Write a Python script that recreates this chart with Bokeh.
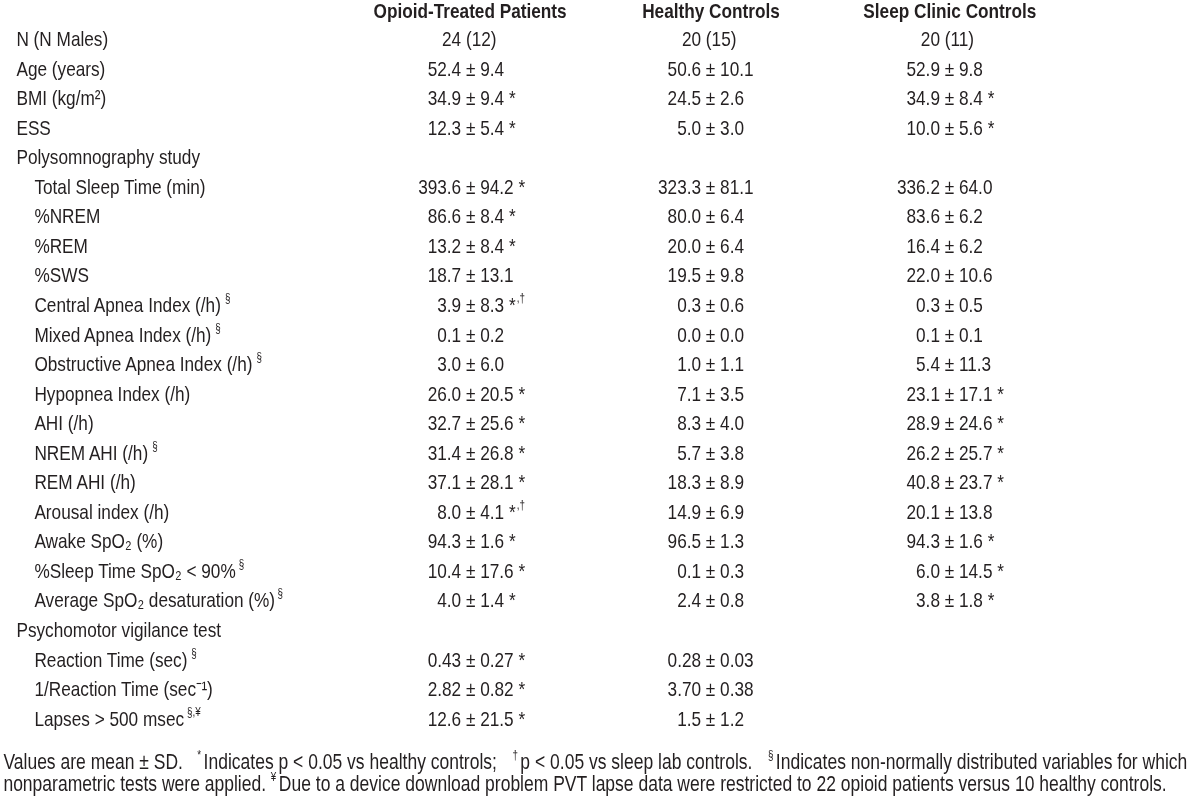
from bokeh.plotting import figure
from bokeh.models import ColumnDataSource, Range1d
from bokeh.core.properties import value
from bokeh.embed import file_html
from bokeh.resources import INLINE

# ---------------- data ----------------
headers = ["Opioid-Treated Patients", "Healthy Controls", "Sleep Clinic Controls"]

labels = ["N (N Males)", "Age (years)", "BMI (kg/m\u00b2)", "ESS", "Polysomnography study",
          "Total Sleep Time (min)", "%NREM", "%REM", "%SWS", "Central Apnea Index (/h)",
          "Mixed Apnea Index (/h)", "Obstructive Apnea Index (/h)", "Hypopnea Index (/h)",
          "AHI (/h)", "NREM AHI (/h)", "REM AHI (/h)", "Arousal index (/h)",
          "Awake SpO\u2082 (%)", "%Sleep Time SpO\u2082 < 90%", "Average SpO\u2082 desaturation (%)",
          "Psychomotor vigilance test", "Reaction Time (sec)", "1/Reaction Time (sec\u207b\u00b9)",
          "Lapses > 500 msec"]
indent = [0, 0, 0, 0, 0, 1, 1, 1, 1, 1, 1, 1, 1, 1, 1, 1, 1, 1, 1, 1, 0, 1, 1, 1]
label_notes = ["", "", "", "", "", "", "", "", "", "\u00a7", "\u00a7", "\u00a7", "", "", "\u00a7", "",
               "", "", "\u00a7", "\u00a7", "", "\u00a7", "", "\u00a7,\u00a5"]

opioid = ["24 (12)", "52.4 \u00b1 9.4", "34.9 \u00b1 9.4", "12.3 \u00b1 5.4", "", "393.6 \u00b1 94.2",
          "86.6 \u00b1 8.4", "13.2 \u00b1 8.4", "18.7 \u00b1 13.1", "3.9 \u00b1 8.3", "0.1 \u00b1 0.2",
          "3.0 \u00b1 6.0", "26.0 \u00b1 20.5", "32.7 \u00b1 25.6", "31.4 \u00b1 26.8", "37.1 \u00b1 28.1",
          "8.0 \u00b1 4.1", "94.3 \u00b1 1.6", "10.4 \u00b1 17.6", "4.0 \u00b1 1.4", "",
          "0.43 \u00b1 0.27", "2.82 \u00b1 0.82", "12.6 \u00b1 21.5"]
opioid_sig = ["", "", "*", "*", "", "*", "*", "*", "", "*,\u2020", "", "", "*", "*", "*", "*",
              "*,\u2020", "*", "*", "*", "", "*", "*", "*"]

healthy = ["20 (15)", "50.6 \u00b1 10.1", "24.5 \u00b1 2.6", "5.0 \u00b1 3.0", "", "323.3 \u00b1 81.1",
           "80.0 \u00b1 6.4", "20.0 \u00b1 6.4", "19.5 \u00b1 9.8", "0.3 \u00b1 0.6", "0.0 \u00b1 0.0",
           "1.0 \u00b1 1.1", "7.1 \u00b1 3.5", "8.3 \u00b1 4.0", "5.7 \u00b1 3.8", "18.3 \u00b1 8.9",
           "14.9 \u00b1 6.9", "96.5 \u00b1 1.3", "0.1 \u00b1 0.3", "2.4 \u00b1 0.8", "",
           "0.28 \u00b1 0.03", "3.70 \u00b1 0.38", "1.5 \u00b1 1.2"]
healthy_sig = [""] * 24

sleep = ["20 (11)", "52.9 \u00b1 9.8", "34.9 \u00b1 8.4", "10.0 \u00b1 5.6", "", "336.2 \u00b1 64.0",
         "83.6 \u00b1 6.2", "16.4 \u00b1 6.2", "22.0 \u00b1 10.6", "0.3 \u00b1 0.5", "0.1 \u00b1 0.1",
         "5.4 \u00b1 11.3", "23.1 \u00b1 17.1", "28.9 \u00b1 24.6", "26.2 \u00b1 25.7", "40.8 \u00b1 23.7",
         "20.1 \u00b1 13.8", "94.3 \u00b1 1.6", "6.0 \u00b1 14.5", "3.8 \u00b1 1.8", "", "", "", ""]
sleep_sig = ["", "", "*", "*", "", "", "", "", "", "", "", "", "*", "*", "*", "*", "",
             "*", "*", "*", "", "", "", ""]

foot1 = [("Values are mean \u00b1 SD.", ""), ("Indicates p < 0.05 vs healthy controls;", "*"),
         ("p < 0.05 vs sleep lab controls.", "\u2020"),
         ("Indicates non-normally distributed variables for which", "\u00a7")]
foot2 = [("nonparametric tests were applied.", ""),
         ("Due to a device download problem PVT lapse data were restricted to 22 opioid patients versus 10 healthy controls.", "\u00a5")]

# ---------------- styling / layout ----------------
FONT = "Liberation Sans"
COLOR = "#231f20"
SIZE = 21
SUP = 12
W = 1200                  # visible page width (data units == screen px)
SX, SY = 0.82, 1.0        # horizontal condensation (Arial -> Arial Narrow look)
WL = int(round(W / (SX * SX)))
HL = 815                  # a little taller than the window so nothing is clipped

AW = {' ': 278, '%': 889, '(': 333, ')': 333, '*': 389, ',': 278, '-': 333, '.': 278, '/': 278,
      ';': 278, '<': 584, '>': 584, '\u00b1': 584, '\u00b2': 333, '\u00b9': 333, '\u2082': 333,
      '\u207b': 333, '\u00a7': 556, '\u2020': 556, '\u00a5': 556, ':': 278}
for c in "0123456789":
    AW[c] = 556
for c, w in zip("ABCDEFGHIJKLMNOPQRSTUVWXYZ",
                [667, 667, 722, 722, 667, 611, 778, 722, 278, 500, 667, 556, 833, 722, 778, 667,
                 778, 722, 667, 611, 722, 667, 944, 667, 667, 611]):
    AW[c] = w
for c, w in zip("abcdefghijklmnopqrstuvwxyz",
                [556, 556, 500, 556, 556, 278, 556, 556, 222, 222, 500, 222, 833, 556, 556, 556,
                 556, 333, 500, 278, 556, 500, 722, 500, 500, 500]):
    AW[c] = w


def tw(s, size):
    # on-screen width of a string
    return sum(AW.get(c, 556) for c in s) / 1000.0 * (SX / SY) * size


def row_y(i):
    return 38.5 + i * 29.55


def base(yc, size=SIZE):
    return yc + 0.358 * size


p = figure(width=WL, height=HL, x_range=Range1d(0, WL * SX * SX), y_range=Range1d(HL * SY * SY, 0),
           output_backend="svg", toolbar_location=None, min_border=0)
p.styles = {"position": "fixed", "left": "0px", "top": "0px",
            "transform": f"translate(0px, -8px) scale({SX}, {SY})", "transform-origin": "0 0"}
p.axis.visible = False
p.grid.visible = False
p.outline_line_color = None
p.background_fill_color = "white"
p.border_fill_color = "white"


def add_text(xs, ys, texts, size, bold=False, align="left"):
    src = ColumnDataSource(dict(x=xs, y=ys, t=texts))
    p.text(x="x", y="y", text="t", source=src, text_font=value(FONT),
           text_font_size=f"{size / SY:.2f}px", text_color=COLOR,
           text_font_style="bold" if bold else "normal",
           text_align=align, text_baseline="alphabetic")


# headers
col_centers = [470, 711, 950]
add_text(col_centers, [base(10)] * 3, headers, SIZE, bold=True, align="center")

# labels
lx, ly, lt = [], [], []
nx, ny, nt = [], [], []
for i, lab in enumerate(labels):
    x0 = 16 if indent[i] == 0 else 34
    lx.append(x0)
    ly.append(base(row_y(i)))
    lt.append(lab)
    if label_notes[i]:
        nx.append(x0 + tw(lab, SIZE) + 3)
        ny.append(base(row_y(i)) - 6.5)
        nt.append(label_notes[i])
add_text(lx, ly, lt, SIZE)
add_text(nx, ny, nt, SUP)

# value columns, decimal-aligned on mean
mean_edges = [461, 701, 940]
for col, sig, edge in zip([opioid, healthy, sleep], [opioid_sig, healthy_sig, sleep_sig], mean_edges):
    vx, vy, vt = [], [], []
    sx, sy, st = [], [], []
    for i, v in enumerate(col):
        if not v:
            continue
        mean_part = v.split(" ")[0]
        x0 = edge - tw(mean_part, SIZE)
        s = sig[i]
        txt = v + (" *" if s.startswith("*") else "")
        vx.append(x0)
        vy.append(base(row_y(i)))
        vt.append(txt)
        if len(s) > 1:
            sx.append(x0 + tw(txt, SIZE) + 0.5)
            sy.append(base(row_y(i)) - 6.5)
            st.append(s[1:])
    add_text(vx, vy, vt, SIZE)
    if st:
        add_text(sx, sy, st, SUP)


# footnote: size chosen so that the second line spans like the reference,
# first line justified to the full text width
def line_layout(line, fs):
    x, n_sp = 0.0, 0
    items = []
    for k, (seg, mark) in enumerate(line):
        if k > 0:
            x += tw(" ", fs)
            n_sp += 1
        mx = None
        if mark:
            mx = x
            x += tw(mark, SUP) + 2.5
        items.append((seg, mark, mx, x, n_sp))
        x += tw(seg, fs)
        n_sp += seg.count(" ")
    return items, x, n_sp


seg_only2 = " ".join(s for s, _ in foot2)
FS = (1164.0 - tw("\u00a5", SUP) - 2.5) / tw(seg_only2, 1.0)
for line, yb, right in [(foot1, 769, 1195), (foot2, 791, None)]:
    items, total, n_sp = line_layout(line, FS)
    extra = ((right - 3) - total) / n_sp if right else 0.0
    fx, fy, ft = [], [], []
    mx_, my_, mt_ = [], [], []
    for seg, mark, mx, sx0, sp_before in items:
        shift = 3 + extra * sp_before
        if mark:
            mx_.append(mx + shift)
            my_.append(yb - 6.5)
            mt_.append(mark)
        fx.append(sx0 + shift)
        fy.append(yb)
        ft.append(seg)
    add_text(fx, fy, ft, FS)
    add_text(mx_, my_, mt_, SUP)

open("out.html", "w").write(file_html(p, INLINE))
